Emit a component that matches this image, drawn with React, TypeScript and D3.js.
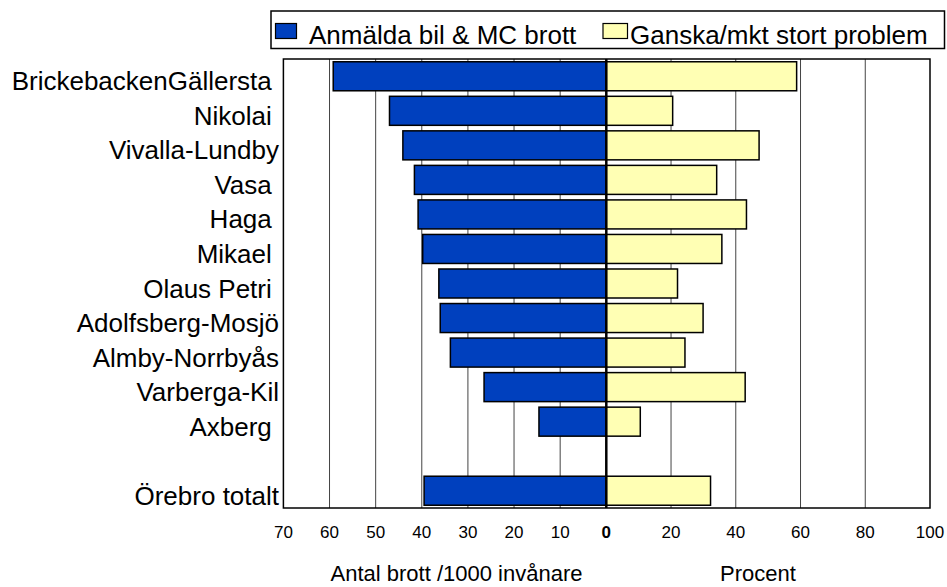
import React from "react";
import * as d3 from "d3";

const categories = [
  "BrickebackenGällersta ",
  "Nikolai ",
  "Vivalla-Lundby",
  "Vasa ",
  "Haga ",
  "Mikael ",
  "Olaus Petri ",
  "Adolfsberg-Mosjö",
  "Almby-Norrbyås",
  "Varberga-Kil",
  "Axberg ",
  "Örebro totalt",
];
const crimes = [59.2, 47.0, 44.1, 41.6, 40.8, 39.8, 36.3, 36.0, 33.8, 26.5, 14.6, 39.5];
const problem = [58.8, 20.5, 47.2, 34.1, 43.3, 35.7, 22.0, 29.9, 24.3, 42.9, 10.5, 32.2];
const leftTicks = [70, 60, 50, 40, 30, 20, 10];
const rightTicks = [20, 40, 60, 80, 100];
const seriesNames = ["Anmälda bil & MC brott", "Ganska/mkt stort problem"];
const axisTitles = ["Antal brott /1000 invånare", "Procent"];

const W = 947;
const H = 587;
const FONT = "'Liberation Sans', Arial, Helvetica, sans-serif";
const BLUE = "#0040BE";
const YELLOW = "#FFFFB4";

export default function App() {
  const top = 59;
  const bottom = 508;
  const left = 283.4;
  const right = 930;
  const zero = 606.3;

  const xL = d3.scaleLinear().domain([0, 70]).range([zero, left]);
  const xR = d3.scaleLinear().domain([0, 100]).range([zero, right]);

  const domain = [...categories.slice(0, -1), "__gap__", categories[categories.length - 1]];
  const y = d3.scaleBand<string>().domain(domain).range([top, bottom]).paddingInner(0.16).paddingOuter(0.08);

  return (
    <svg
      width={W}
      height={H}
      style={{ position: "absolute", left: 0, top: 0, background: "#fff" }}
      fontFamily={FONT}
    >
      {/* legend */}
      <rect x={271} y={11} width={673.5} height={37.5} fill="#fff" stroke="#000" strokeWidth={1.5} />
      <rect x={275.5} y={23.5} width={21} height={15} fill={BLUE} stroke="#000" strokeWidth={1.2} />
      <text x={309} y={43.5} fontSize={26} fill="#000">{seriesNames[0]}</text>
      <rect x={603} y={23.5} width={24.5} height={15} fill={YELLOW} stroke="#000" strokeWidth={1.2} />
      <text x={630} y={43.5} fontSize={26} fill="#000">{seriesNames[1]}</text>

      {/* gridlines */}
      {leftTicks.filter((t) => t !== 70).map((t) => (
        <line key={"gl" + t} x1={xL(t)} x2={xL(t)} y1={top} y2={bottom} stroke="#444" strokeWidth={1} />
      ))}
      {rightTicks.filter((t) => t !== 100).map((t) => (
        <line key={"gr" + t} x1={xR(t)} x2={xR(t)} y1={top} y2={bottom} stroke="#444" strokeWidth={1} />
      ))}

      {/* bars */}
      {categories.map((c, i) => {
        const yy = y(c)!;
        return (
          <g key={c}>
            <rect
              x={xL(crimes[i])}
              y={yy}
              width={zero - xL(crimes[i])}
              height={y.bandwidth()}
              fill={BLUE}
              stroke="#000"
              strokeWidth={1.5}
            />
            <rect
              x={zero}
              y={yy}
              width={xR(problem[i]) - zero}
              height={y.bandwidth()}
              fill={YELLOW}
              stroke="#000"
              strokeWidth={1.5}
            />
            <text
              x={279}
              y={yy + y.bandwidth() / 2 + 14}
              fontSize={26}
              textAnchor="end"
              fill="#000"
              xmlSpace="preserve"
              style={{ whiteSpace: "pre" }}
            >
              {c}
            </text>
          </g>
        );
      })}

      {/* zero line */}
      <line x1={zero} x2={zero} y1={top} y2={bottom} stroke="#000" strokeWidth={2.5} />

      {/* plot border */}
      <rect x={left} y={top} width={right - left} height={bottom - top} fill="none" stroke="#000" strokeWidth={1.5} />

      {/* tick labels */}
      {leftTicks.map((t) => (
        <text key={"tl" + t} x={xL(t)} y={538} fontSize={17} textAnchor="middle" fill="#000">
          {t}
        </text>
      ))}
      <text x={zero} y={538} fontSize={17} fontWeight="bold" textAnchor="middle" fill="#000">0</text>
      {rightTicks.map((t) => (
        <text key={"tr" + t} x={xR(t)} y={538} fontSize={17} textAnchor="middle" fill="#000">
          {t}
        </text>
      ))}

      {/* axis titles */}
      <text x={456.5} y={581} fontSize={22} textAnchor="middle" fill="#000">{axisTitles[0]}</text>
      <text x={758} y={581} fontSize={22} textAnchor="middle" fill="#000">{axisTitles[1]}</text>
    </svg>
  );
}
